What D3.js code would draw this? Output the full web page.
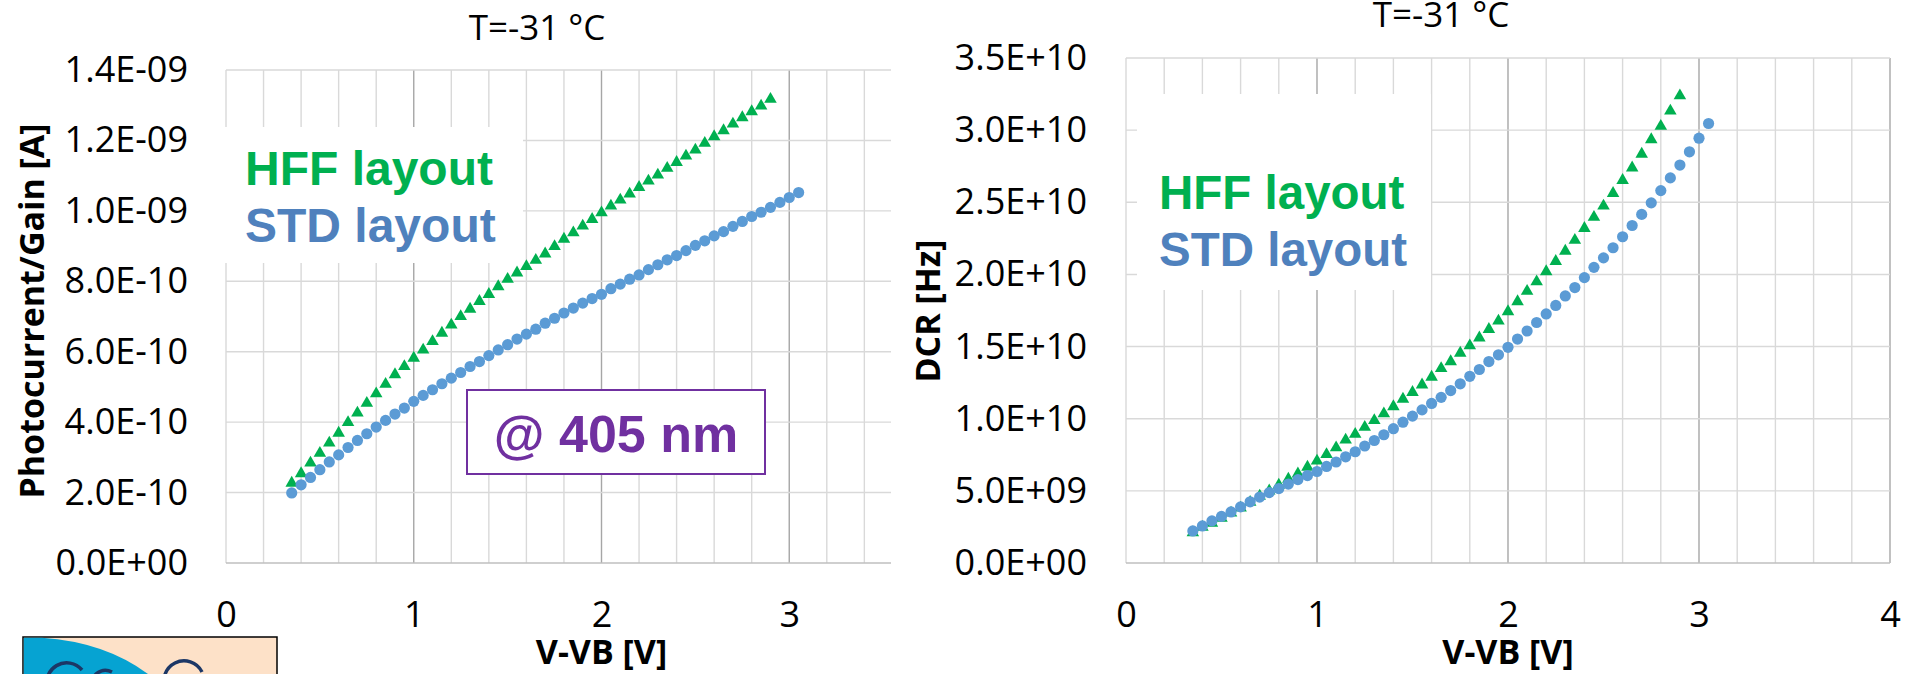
<!DOCTYPE html>
<html>
<head>
<meta charset="utf-8">
<script src="https://cdn.jsdelivr.net/npm/d3@7"></script>
<style>
  body { margin: 0; background: #fff; }
  svg { display: block; }
</style>
</head>
<body>
<script>
// V-VB [V] steps of the two layouts (same for both panels)
const vHff = [0.35, 0.40, 0.45, 0.50, 0.55, 0.60, 0.65, 0.70, 0.75, 0.80, 0.85, 0.90, 0.95, 1.00,
  1.05, 1.10, 1.15, 1.20, 1.25, 1.30, 1.35, 1.40, 1.45, 1.50, 1.55, 1.60, 1.65, 1.70, 1.75, 1.80,
  1.85, 1.90, 1.95, 2.00, 2.05, 2.10, 2.15, 2.20, 2.25, 2.30, 2.35, 2.40, 2.45, 2.50, 2.55, 2.60,
  2.65, 2.70, 2.75, 2.80, 2.85, 2.90];
const vStd = [0.35, 0.40, 0.45, 0.50, 0.55, 0.60, 0.65, 0.70, 0.75, 0.80, 0.85, 0.90, 0.95, 1.00,
  1.05, 1.10, 1.15, 1.20, 1.25, 1.30, 1.35, 1.40, 1.45, 1.50, 1.55, 1.60, 1.65, 1.70, 1.75, 1.80,
  1.85, 1.90, 1.95, 2.00, 2.05, 2.10, 2.15, 2.20, 2.25, 2.30, 2.35, 2.40, 2.45, 2.50, 2.55, 2.60,
  2.65, 2.70, 2.75, 2.80, 2.85, 2.90, 2.95, 3.00, 3.05];

// photocurrent/gain, in units of 1e-10 A
const photoHff = [2.27, 2.54, 2.84, 3.12, 3.41, 3.69, 3.99, 4.26, 4.54, 4.81, 5.08, 5.35, 5.58, 5.82,
  6.05, 6.29, 6.53, 6.76, 7.00, 7.21, 7.43, 7.63, 7.85, 8.06, 8.24, 8.42, 8.60, 8.78, 8.99, 9.20,
  9.38, 9.57, 9.76, 9.95, 10.14, 10.31, 10.48, 10.67, 10.85, 11.02, 11.21, 11.38, 11.56, 11.73, 11.92, 12.11,
  12.28, 12.47, 12.65, 12.82, 12.98, 13.17];
const photoStd = [1.99, 2.22, 2.43, 2.65, 2.87, 3.07, 3.28, 3.48, 3.67, 3.86, 4.05, 4.23, 4.40, 4.59,
  4.76, 4.92, 5.09, 5.25, 5.41, 5.58, 5.72, 5.89, 6.05, 6.20, 6.36, 6.50, 6.64, 6.81, 6.95, 7.10,
  7.24, 7.38, 7.51, 7.63, 7.79, 7.92, 8.06, 8.18, 8.33, 8.47, 8.61, 8.73, 8.87, 9.02, 9.15, 9.29,
  9.41, 9.56, 9.70, 9.84, 9.96, 10.10, 10.24, 10.38, 10.52];

// dark count rate, in units of 1e9 Hz
const dcrHff = [2.10, 2.48, 2.76, 3.11, 3.47, 3.82, 4.22, 4.64, 5.00, 5.40, 5.82, 6.18, 6.65, 7.07,
  7.52, 7.99, 8.53, 8.93, 9.41, 9.88, 10.35, 10.84, 11.36, 11.83, 12.35, 12.89, 13.48, 13.96, 14.55, 15.06,
  15.61, 16.20, 16.78, 17.43, 18.12, 18.84, 19.50, 20.20, 20.91, 21.62, 22.37, 23.20, 23.97, 24.75, 25.62, 26.52,
  27.39, 28.34, 29.35, 30.27, 31.33, 32.39];
const dcrStd = [2.22, 2.57, 2.92, 3.23, 3.54, 3.89, 4.24, 4.57, 4.88, 5.16, 5.47, 5.78, 6.06, 6.34,
  6.69, 7.00, 7.36, 7.71, 8.11, 8.49, 8.89, 9.31, 9.76, 10.18, 10.61, 11.06, 11.48, 11.95, 12.42, 12.94,
  13.41, 13.96, 14.43, 14.95, 15.52, 16.08, 16.67, 17.26, 17.85, 18.51, 19.09, 19.78, 20.49, 21.15, 21.85, 22.61,
  23.39, 24.16, 24.96, 25.81, 26.69, 27.58, 28.50, 29.44, 30.46];

const xTicks = [0, 1, 2, 3, 4];
const photoTicks = [0, 2, 4, 6, 8, 10, 12, 14];
const dcrTicks = [0, 5, 10, 15, 20, 25, 30, 35];
const legendLabels = ["HFF layout", "STD layout"];

const width = 1905;
const height = 674;
const labelFont = "'Open Sans', 'Liberation Sans', sans-serif";
const boldFont = "'Liberation Sans', Arial, sans-serif";
const green = "#00b050";
const blue = "#5b9bd5";

const svg = d3.select("body").append("svg")
    .attr("width", width)
    .attr("height", height);

svg.append("rect").attr("width", width).attr("height", height).attr("fill", "#fff");

// Excel style 0.0E+00 labels
const sci = (v) => {
    const parts = v.toExponential(1).split("e");
    const e = +parts[1];
    return parts[0] + "E" + (e < 0 ? "-" : "+") + String(Math.abs(e)).padStart(2, "0");
};

const panels = [
    {
        left: 226, right: 977, top: 70, clip: 891,
        yMax: 14, unit: 1e-10, ticks: photoTicks, hff: photoHff, std: photoStd,
        yPad: 38, yTitle: "Photocurrent/Gain [A]", yTitleX: 32,
        title: "T=-31 °C", titleX: 537, titleY: 40,
        legendBox: [218, 127, 305, 136], legendX: 245, legendY: 185, legendSize: 48
    },
    {
        left: 1126, right: 1890, top: 58, clip: null,
        yMax: 35, unit: 1e9, ticks: dcrTicks, hff: dcrHff, std: dcrStd,
        yPad: 39, yTitle: "DCR [Hz]", yTitleX: 928,
        title: "T=-31 °C", titleX: 1441, titleY: 27,
        legendBox: [1137, 94, 294, 196], legendX: 1159, legendY: 209, legendSize: 47.5
    }
];

panels.forEach((p, i) => {
    const g = svg.append("g");
    if (p.clip) {
        svg.append("clipPath").attr("id", "clip" + i)
            .append("rect").attr("x", 0).attr("y", 0).attr("width", p.clip).attr("height", height);
        g.attr("clip-path", `url(#clip${i})`);
    }

    const x = d3.scaleLinear().domain([0, 4]).range([p.left, p.right]);
    const y = d3.scaleLinear().domain([0, p.yMax]).range([563, p.top]);

    // vertical grid every 0.2 V, darker at whole volts
    g.append("g").selectAll("line")
        .data(x.ticks(20))
        .join("line")
        .attr("x1", d => x(d)).attr("x2", d => x(d))
        .attr("y1", y(p.yMax)).attr("y2", y(0))
        .attr("stroke", d => (d > 0 && Math.abs(d - Math.round(d)) < 1e-6) ? "#a6a6a6" : "#d9d9d9")
        .attr("stroke-width", 1.4);

    g.append("g").selectAll("line")
        .data(p.ticks)
        .join("line")
        .attr("x1", x(0)).attr("x2", x(4))
        .attr("y1", d => y(d)).attr("y2", d => y(d))
        .attr("stroke", d => d === 0 ? "#bfbfbf" : "#d9d9d9")
        .attr("stroke-width", 1.4);

    // white box under the legend text
    g.append("rect")
        .attr("x", p.legendBox[0]).attr("y", p.legendBox[1])
        .attr("width", p.legendBox[2]).attr("height", p.legendBox[3])
        .attr("fill", "#fff");

    const yAxis = d3.axisLeft(y).tickValues(p.ticks).tickSize(0).tickPadding(p.yPad)
        .tickFormat(d => sci(d * p.unit));
    g.append("g")
        .attr("transform", `translate(${x(0)},0)`)
        .call(yAxis)
        .attr("font-family", labelFont)
        .attr("font-size", 36)
        .attr("color", "#000")
        .call(a => a.select(".domain").remove());

    const xAxis = d3.axisBottom(x).tickValues(xTicks).tickSize(0).tickPadding(38).tickFormat(d3.format("d"));
    g.append("g")
        .attr("transform", `translate(0,${y(0)})`)
        .call(xAxis)
        .attr("font-family", labelFont)
        .attr("font-size", 36)
        .attr("color", "#000")
        .call(a => a.select(".domain").remove());

    g.append("text")
        .text(p.title)
        .attr("x", p.titleX).attr("y", p.titleY)
        .attr("text-anchor", "middle")
        .attr("font-family", labelFont).attr("font-size", 35);

    g.append("text")
        .text("V-VB [V]")
        .attr("x", (p.left + p.right) / 2).attr("y", 664)
        .attr("text-anchor", "middle")
        .attr("font-family", labelFont).attr("font-size", 34).attr("font-weight", "bold");

    g.append("text")
        .text(p.yTitle)
        .attr("transform", `translate(${p.yTitleX},311) rotate(-90)`)
        .attr("text-anchor", "middle")
        .attr("dy", "0.35em")
        .attr("font-family", labelFont).attr("font-size", 34).attr("font-weight", "bold");

    // HFF triangles, then STD dots on top
    g.append("g").selectAll("path")
        .data(d3.zip(vHff, p.hff))
        .join("path")
        .attr("transform", d => `translate(${x(d[0])},${y(d[1])})`)
        .attr("d", d3.symbol(d3.symbolTriangle, 68))
        .attr("fill", green);

    g.append("g").selectAll("circle")
        .data(d3.zip(vStd, p.std))
        .join("circle")
        .attr("cx", d => x(d[0]))
        .attr("cy", d => y(d[1]))
        .attr("r", 5.6)
        .attr("fill", blue);

    g.selectAll(".legend")
        .data(legendLabels)
        .join("text")
        .attr("class", "legend")
        .text(d => d)
        .attr("x", p.legendX)
        .attr("y", (d, j) => p.legendY + j * 57)
        .attr("font-family", boldFont)
        .attr("font-weight", "bold")
        .attr("font-size", p.legendSize)
        .attr("fill", (d, j) => j === 0 ? green : "#4f81bd");
});

// wavelength note on the photocurrent panel
svg.append("rect")
    .attr("x", 467).attr("y", 390).attr("width", 298).attr("height", 84)
    .attr("fill", "#fff")
    .attr("stroke", "#7030a0").attr("stroke-width", 2);
svg.append("text")
    .text("@ 405 nm")
    .attr("x", 616).attr("y", 452)
    .attr("text-anchor", "middle")
    .attr("font-family", boldFont).attr("font-weight", "bold").attr("font-size", 52)
    .attr("fill", "#7030a0");

// logo corner, cut by the bottom edge
const logo = svg.append("g");
logo.append("rect")
    .attr("x", 23).attr("y", 637).attr("width", 254).attr("height", 60)
    .attr("fill", "#fde1c8").attr("stroke", "#000").attr("stroke-width", 1.5);
logo.append("path")
    .attr("d", "M23.75,637.75 L42,637.75 Q105,642 148,674 L23.75,674 Z")
    .attr("fill", "#06a3d2");
logo.append("path")
    .attr("d", "M48,690 A20,20 0 0 1 82,670 M92,688 A14,14 0 0 1 112,672 M166,690 A20,20 0 0 1 202,672")
    .attr("fill", "none").attr("stroke", "#1c3766").attr("stroke-width", 3.5);
</script>
</body>
</html>
